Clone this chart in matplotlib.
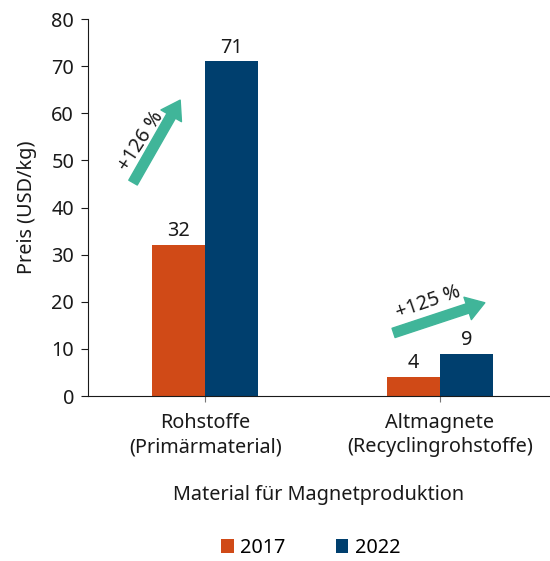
import matplotlib
matplotlib.use("Agg")
import matplotlib.pyplot as plt
import numpy as np

plt.rcParams['font.family'] = ['Noto Sans', 'DejaVu Sans']

categories = ["Rohstoffe\n(Primärmaterial)", "Altmagnete\n(Recyclingrohstoffe)"]
years = ["2017", "2022"]
values_2017 = [32, 4]
values_2022 = [71, 9]
labels_2017 = ["32", "4"]
labels_2022 = ["71", "9"]
changes = ["+126 %", "+125 %"]

c2017 = "#d04a17"
c2022 = "#003f6e"
teal = "#40b599"
tc = '#1a1a1a'
fs = 14.3

fig = plt.figure(figsize=(5.5, 5.61), dpi=100)
ax = fig.add_axes([0.16, 0.294, 0.84, 0.672])

x = np.arange(len(categories))
w = 0.226
b1 = ax.bar(x - w/2, values_2017, w, color=c2017, label=years[0])
b2 = ax.bar(x + w/2, values_2022, w, color=c2022, label=years[1])

for bars, labs in ((b1, labels_2017), (b2, labels_2022)):
    for r, t in zip(bars, labs):
        ax.text(r.get_x() + r.get_width()/2, r.get_height() + 0.8, t,
                ha='center', va='bottom', fontsize=fs, color=tc)

ax.set_xlim(-0.5, 1.47)
ax.set_ylim(0, 80)
ax.set_yticks(range(0, 81, 10))
ax.set_xticks(x)
ax.set_xticklabels(categories, fontsize=fs, color=tc, linespacing=1.3)
ax.tick_params(axis='y', labelsize=fs, length=5, colors=tc, pad=5)
ax.tick_params(axis='x', length=4, color='#777777', pad=8)
for s in ['top', 'right']:
    ax.spines[s].set_visible(False)
ax.spines['left'].set_color(tc)
ax.spines['bottom'].set_color(tc)

ax.set_ylabel("Preis (USD/kg)", fontsize=fs, color=tc, labelpad=10)
ax.set_xlabel("Material für Magnetproduktion", fontsize=fs, color=tc, labelpad=20)

# growth arrows
ax.annotate("", xy=(-0.107, 62.8), xytext=(-0.308, 45.3),
            arrowprops=dict(width=7, headwidth=17, headlength=13, color=teal, shrink=0))
ax.text(-0.275, 54.0, changes[0], rotation=57, ha='center', va='center',
        fontsize=fs, color=tc, rotation_mode='anchor')
ax.annotate("", xy=(1.192, 19.8), xytext=(0.803, 13.4),
            arrowprops=dict(width=7, headwidth=17, headlength=13, color=teal, shrink=0))
ax.text(0.95, 19.8, changes[1], rotation=19, ha='center', va='center',
        fontsize=fs, color=tc, rotation_mode='anchor')

leg = fig.legend(handles=[b1, b2], labels=years, loc='center', bbox_to_anchor=(0.565, 0.023),
                 ncol=2, frameon=False, fontsize=fs, handlelength=0.65, handleheight=0.65,
                 handletextpad=0.35, columnspacing=2.5)

fig.savefig("out.png", dpi=100)
